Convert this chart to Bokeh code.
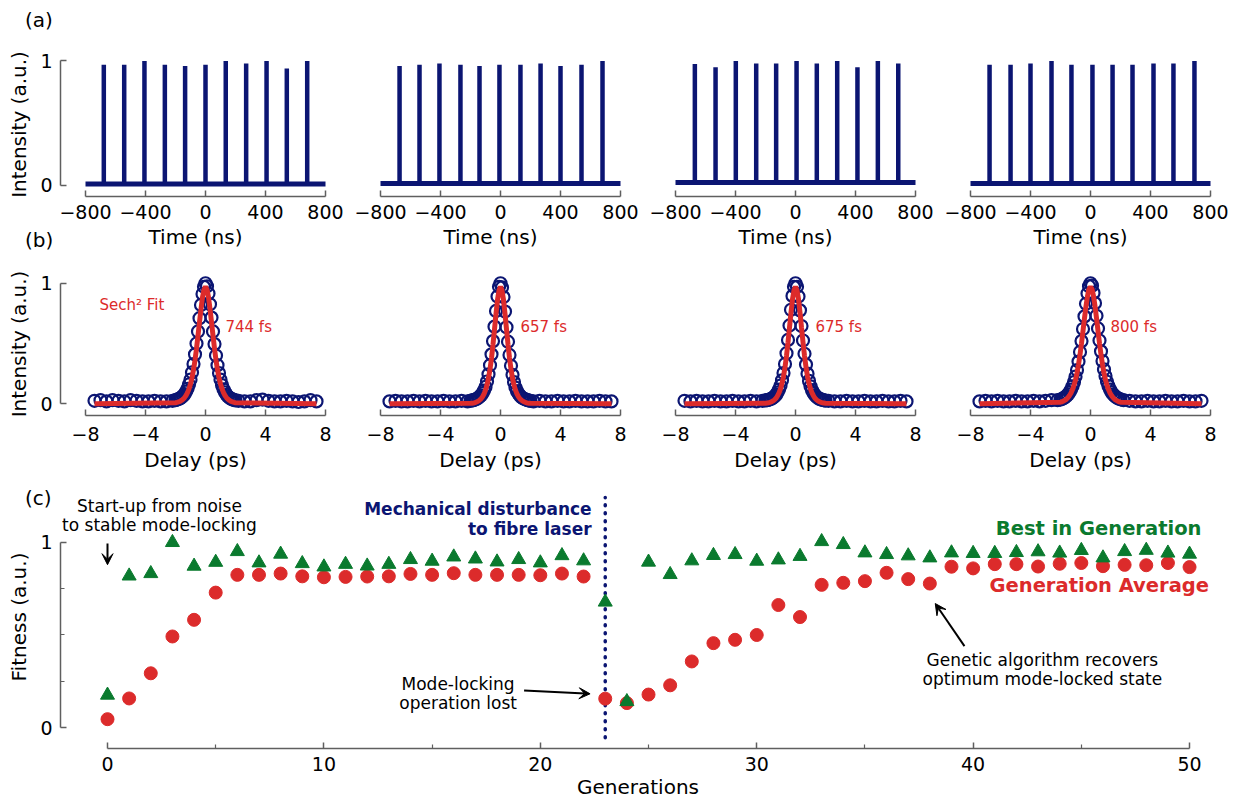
from bokeh.plotting import figure
from bokeh.layouts import column, row
from bokeh.models import Range1d, FixedTicker, Label, Arrow, VeeHead, Div
from bokeh.embed import file_html
from bokeh.resources import INLINE

# ---------------- data ----------------
# (a) pulse trains
time_ticks = [-800, -400, 0, 400, 800]
baseline_span = [-800, 800]
baseline_level = [0.012, 0.015, 0.025, 0.015]
spike_times = [
    [-678, -542, -407, -271, -136, 0, 135, 271, 407, 542, 678],
    [-673, -540, -407, -267, -140, -7, 133, 267, 400, 540, 680],
    [-671, -533, -398, -262, -129, 7, 142, 278, 413, 549, 685],
    [-673, -533, -400, -260, -127, 13, 147, 280, 420, 553, 693],
]
spike_heights = [
    [0.97, 0.97, 1.00, 0.97, 0.96, 0.97, 1.00, 0.98, 1.00, 0.94, 1.00],
    [0.96, 0.97, 0.98, 0.97, 0.96, 0.97, 0.97, 0.98, 0.96, 0.97, 1.00],
    [0.976, 0.95, 1.00, 0.98, 0.98, 1.00, 0.98, 1.00, 0.95, 1.00, 0.98],
    [0.97, 0.97, 0.98, 1.00, 0.97, 0.97, 0.97, 0.97, 0.98, 0.98, 1.00],
]

# (b) autocorrelation traces
delay_ticks = [-8, -4, 0, 4, 8]
delay_data = [-7.4, -7.0, -6.6, -6.2, -5.8, -5.4, -5.0, -4.6, -4.2, -3.8, -3.4, -3.0, -2.6, -2.2,
              -2.0, -1.9, -1.8, -1.7, -1.6, -1.5, -1.4, -1.3, -1.2, -1.1, -1.0, -0.9, -0.8, -0.7,
              -0.6, -0.5, -0.4, -0.3, -0.2, -0.1, 0.0, 0.1, 0.2, 0.3, 0.4, 0.5, 0.6, 0.7, 0.8, 0.9,
              1.0, 1.1, 1.2, 1.3, 1.4, 1.5, 1.6, 1.7, 1.8, 1.9, 2.0,
              2.2, 2.6, 3.0, 3.4, 3.8, 4.2, 4.6, 5.0, 5.4, 5.8, 6.2, 6.6, 7.0, 7.4]
ac_data_1 = [0.025, 0.030, 0.020, 0.030, 0.025, 0.020, 0.030, 0.025, 0.020, 0.020, 0.025, 0.020, 0.020, 0.025,
             0.030, 0.035, 0.040, 0.045, 0.055, 0.065, 0.080, 0.100, 0.125, 0.160, 0.200, 0.260, 0.330, 0.410,
             0.500, 0.600, 0.710, 0.820, 0.910, 0.970, 1.000, 0.975, 0.915, 0.825, 0.715, 0.600, 0.495, 0.400,
             0.320, 0.255, 0.200, 0.155, 0.120, 0.095, 0.075, 0.060, 0.050, 0.042, 0.036, 0.032, 0.028,
             0.025, 0.020, 0.020, 0.030, 0.035, 0.025, 0.020, 0.020, 0.025, 0.020, 0.015, 0.020, 0.030, 0.020]
ac_data_2 = [0.020, 0.025, 0.020, 0.020, 0.025, 0.020, 0.025, 0.020, 0.020, 0.025, 0.020, 0.020, 0.025, 0.020,
             0.025, 0.028, 0.030, 0.035, 0.040, 0.048, 0.058, 0.070, 0.088, 0.110, 0.140, 0.185, 0.245, 0.320,
             0.410, 0.520, 0.640, 0.770, 0.890, 0.970, 1.000, 0.965, 0.885, 0.765, 0.635, 0.515, 0.405, 0.315,
             0.240, 0.180, 0.135, 0.105, 0.083, 0.066, 0.055, 0.046, 0.040, 0.035, 0.030, 0.027, 0.025,
             0.020, 0.025, 0.020, 0.020, 0.025, 0.020, 0.020, 0.025, 0.020, 0.020, 0.020, 0.025, 0.020, 0.020]
ac_data_3 = [0.025, 0.020, 0.025, 0.020, 0.020, 0.025, 0.020, 0.020, 0.025, 0.020, 0.020, 0.025, 0.020, 0.025,
             0.028, 0.030, 0.033, 0.037, 0.043, 0.050, 0.060, 0.074, 0.093, 0.118, 0.150, 0.195, 0.255, 0.330,
             0.420, 0.530, 0.650, 0.780, 0.895, 0.970, 1.000, 0.970, 0.890, 0.775, 0.645, 0.525, 0.415, 0.325,
             0.250, 0.190, 0.145, 0.113, 0.090, 0.072, 0.058, 0.048, 0.041, 0.036, 0.032, 0.029, 0.027,
             0.025, 0.020, 0.020, 0.025, 0.020, 0.020, 0.025, 0.020, 0.020, 0.025, 0.020, 0.020, 0.025, 0.020]
ac_data_4 = [0.020, 0.025, 0.020, 0.025, 0.020, 0.020, 0.025, 0.020, 0.020, 0.025, 0.020, 0.025, 0.030, 0.030,
             0.035, 0.040, 0.047, 0.055, 0.065, 0.078, 0.095, 0.117, 0.145, 0.180, 0.225, 0.280, 0.350, 0.430,
             0.520, 0.620, 0.725, 0.830, 0.915, 0.975, 1.000, 0.980, 0.920, 0.835, 0.730, 0.625, 0.525, 0.435,
             0.355, 0.285, 0.230, 0.183, 0.147, 0.118, 0.096, 0.079, 0.066, 0.056, 0.048, 0.042, 0.037,
             0.030, 0.025, 0.020, 0.020, 0.025, 0.020, 0.020, 0.025, 0.020, 0.020, 0.025, 0.020, 0.020, 0.025]
ac_data = [ac_data_1, ac_data_2, ac_data_3, ac_data_4]

delay_fit = [-7.4, -2.0, -1.9, -1.8, -1.7, -1.6, -1.5, -1.4, -1.3, -1.2, -1.1, -1.0, -0.9, -0.8, -0.7,
             -0.6, -0.5, -0.4, -0.3, -0.2, -0.1, 0.0, 0.1, 0.2, 0.3, 0.4, 0.5, 0.6, 0.7, 0.8, 0.9,
             1.0, 1.1, 1.2, 1.3, 1.4, 1.5, 1.6, 1.7, 1.8, 1.9, 2.0, 7.4]
ac_fit_1 = [0.0, 0.009, 0.012, 0.016, 0.020, 0.028, 0.038, 0.051, 0.069, 0.093, 0.124, 0.165, 0.216, 0.282,
            0.363, 0.458, 0.566, 0.679, 0.786, 0.884, 0.948, 0.970, 0.948, 0.884, 0.786, 0.679, 0.566, 0.458,
            0.363, 0.282, 0.216, 0.165, 0.124, 0.093, 0.069, 0.051, 0.038, 0.028, 0.020, 0.016, 0.012, 0.009, 0.0]
ac_fit_2 = [0.0, 0.004, 0.005, 0.007, 0.010, 0.015, 0.021, 0.030, 0.041, 0.058, 0.081, 0.113, 0.156, 0.213,
            0.287, 0.379, 0.493, 0.619, 0.747, 0.861, 0.941, 0.970, 0.941, 0.861, 0.747, 0.619, 0.493, 0.379,
            0.287, 0.213, 0.156, 0.113, 0.081, 0.058, 0.041, 0.030, 0.021, 0.015, 0.010, 0.007, 0.005, 0.004, 0.0]
ac_fit_3 = [0.0, 0.004, 0.006, 0.009, 0.012, 0.017, 0.024, 0.033, 0.046, 0.065, 0.090, 0.123, 0.169, 0.227,
            0.304, 0.398, 0.510, 0.632, 0.758, 0.867, 0.943, 0.970, 0.943, 0.867, 0.758, 0.632, 0.510, 0.398,
            0.304, 0.227, 0.169, 0.123, 0.090, 0.065, 0.046, 0.033, 0.024, 0.017, 0.012, 0.009, 0.006, 0.004, 0.0]
ac_fit_4 = [0.0, 0.013, 0.017, 0.023, 0.030, 0.039, 0.052, 0.069, 0.090, 0.118, 0.154, 0.198, 0.256, 0.325,
            0.407, 0.502, 0.605, 0.711, 0.811, 0.894, 0.951, 0.970, 0.951, 0.894, 0.811, 0.711, 0.605, 0.502,
            0.407, 0.325, 0.256, 0.198, 0.154, 0.118, 0.090, 0.069, 0.052, 0.039, 0.030, 0.023, 0.017, 0.013, 0.0]
ac_fit = [ac_fit_1, ac_fit_2, ac_fit_3, ac_fit_4]
pulse_labels = ["744 fs", "657 fs", "675 fs", "800 fs"]

# (c) genetic algorithm fitness
generations = list(range(51))
gen_ticks = [0, 10, 20, 30, 40, 50]
gen_minor = [5, 15, 25, 35, 45]
best_in_generation = [0.175, 0.819, 0.832, 1.000, 0.872, 0.893, 0.951, 0.890, 0.937, 0.886,
                      0.868, 0.882, 0.873, 0.882, 0.908, 0.899, 0.922, 0.911, 0.895, 0.908,
                      0.890, 0.929, 0.901, 0.678, 0.140, 0.894, 0.827, 0.901, 0.930, 0.935,
                      0.899, 0.906, 0.925, 1.005, 0.989, 0.944, 0.935, 0.928, 0.917, 0.944,
                      0.941, 0.941, 0.946, 0.950, 0.943, 0.957, 0.917, 0.951, 0.958, 0.943, 0.937]
generation_average = [0.045, 0.157, 0.293, 0.492, 0.582, 0.729, 0.825, 0.825, 0.832, 0.817,
                      0.812, 0.814, 0.816, 0.817, 0.830, 0.825, 0.834, 0.825, 0.825, 0.825,
                      0.823, 0.832, 0.816, 0.156, 0.132, 0.178, 0.228, 0.357, 0.456, 0.474,
                      0.500, 0.662, 0.597, 0.771, 0.782, 0.791, 0.836, 0.802, 0.778, 0.869,
                      0.860, 0.883, 0.883, 0.870, 0.885, 0.889, 0.872, 0.879, 0.877, 0.889, 0.867]
disturbance_generation = 23

# ---------------- style ----------------
NAVY = "#0b1572"
RED = "#dc2b2b"
GREEN = "#0a7a2e"
AXIS = "#5f5f5f"
FONT = "DejaVu Sans"


def minus(v):
    return str(v).replace("-", "\u2212")


def base_fig(width, height, xr, yr, left, right, top, bottom, show_y):
    p = figure(width=width, height=height, x_range=Range1d(*xr), y_range=Range1d(*yr),
               output_backend="svg", toolbar_location=None,
               min_border_left=left, min_border_right=right,
               min_border_top=top, min_border_bottom=bottom)
    p.outline_line_color = None
    p.xgrid.visible = False
    p.ygrid.visible = False
    p.background_fill_color = "white"
    p.border_fill_color = "white"
    for ax in p.axis:
        ax.axis_line_color = AXIS
        ax.axis_line_width = 1.5
        ax.major_tick_line_color = AXIS
        ax.major_tick_line_width = 1.5
        ax.minor_tick_line_color = AXIS
        ax.minor_tick_line_width = 1.2
        ax.major_tick_in = 6
        ax.major_tick_out = 0
        ax.minor_tick_in = 4
        ax.minor_tick_out = 0
        ax.major_label_text_font = FONT
        ax.major_label_text_font_size = "19px"
        ax.major_label_text_color = "black"
        ax.axis_label_text_font = FONT
        ax.axis_label_text_font_size = "20px"
        ax.axis_label_text_font_style = "normal"
        ax.axis_label_text_color = "black"
    p.yaxis.ticker = FixedTicker(ticks=[0, 1])
    p.yaxis.bounds = (0, 1)
    p.yaxis.major_label_standoff = 8
    p.yaxis.axis_label_standoff = 6
    p.yaxis.visible = show_y
    return p


def panel_tag(text, top, left):
    # zero-net-height overlay text holding a panel letter
    h = 24
    return Div(text=text, width=40, height=h, margin=(top, 0, -(top + h), left),
               styles={"position": "relative", "z-index": "10", "font-family": FONT,
                       "font-size": "20px", "line-height": "24px", "color": "black"})


# ---------------- row (a) ----------------
row_a = []
for i in range(4):
    first = i == 0
    p = base_fig(350 if first else 295, 253, (-966.7, 833.3), (-0.0884, 1.068),
                 60 if first else 5, 20, 52, 57, first)
    p.xaxis.ticker = FixedTicker(ticks=time_ticks)
    p.xaxis.bounds = (time_ticks[0], time_ticks[-1])
    p.xaxis.major_label_overrides = {t: minus(t) for t in time_ticks}
    p.xaxis.major_label_standoff = 8
    p.xaxis.axis_label_standoff = 3
    p.xaxis.axis_label = "Time (ns)"
    if first:
        p.yaxis.axis_label = "Intensity (a.u.)"
    n = len(spike_times[i])
    p.line(baseline_span, [baseline_level[i]] * 2, line_width=5, color=NAVY)
    p.segment(x0=spike_times[i], y0=[baseline_level[i]] * n, x1=spike_times[i],
              y1=spike_heights[i], line_width=4.5, color=NAVY)
    row_a.append(p)

# ---------------- row (b) ----------------
row_b = []
for i in range(4):
    first = i == 0
    p = base_fig(350 if first else 295, 224, (-9.667, 8.333), (-0.097, 1.089),
                 60 if first else 5, 20, 19, 62, first)
    p.xaxis.ticker = FixedTicker(ticks=delay_ticks)
    p.xaxis.bounds = (delay_ticks[0], delay_ticks[-1])
    p.xaxis.major_label_overrides = {t: minus(t) for t in delay_ticks}
    p.xaxis.major_label_standoff = 11
    p.xaxis.axis_label_standoff = 4
    p.xaxis.axis_label = "Delay (ps)"
    if first:
        p.yaxis.axis_label = "Intensity (a.u.)"
    p.scatter(delay_data, ac_data[i], marker="circle", size=12, fill_color=None,
              line_color=NAVY, line_width=2.2)
    p.line(delay_fit, ac_fit[i], line_width=5, color=RED)
    p.add_layout(Label(x=1.33, y=0.64, text=pulse_labels[i], text_font=FONT,
                       text_font_size="15px", text_color=RED, text_baseline="middle"))
    if first:
        p.add_layout(Label(x=-7.07, y=0.823, text="Sech\u00b2 Fit", text_font=FONT,
                           text_font_size="15px", text_color=RED, text_baseline="middle"))
    row_b.append(p)

# ---------------- panel (c) ----------------
pc = base_fig(1215, 326, (-2.172, 51.2), (-0.1135, 1.308), 60, 0, 8, 55, True)
pc.xaxis.ticker = FixedTicker(ticks=gen_ticks, minor_ticks=gen_minor)
pc.xaxis.bounds = (gen_ticks[0], gen_ticks[-1])
pc.xaxis.major_label_standoff = 8
pc.xaxis.axis_label_standoff = 1
pc.xaxis.axis_label = "Generations"
pc.yaxis.ticker = FixedTicker(ticks=[0, 1], minor_ticks=[0.25, 0.5, 0.75])
pc.yaxis.axis_label = "Fitness (a.u.)"

pc.segment(x0=[disturbance_generation], y0=[-0.055], x1=[disturbance_generation], y1=[1.243],
           line_width=3.5, line_dash="1 7", line_cap="round", color=NAVY)
pc.scatter(generations, generation_average, marker="circle", size=13, color=RED)
pc.scatter(generations, best_in_generation, marker="triangle", size=14, color=GREEN)


def note(x, y, text, align="center", color="black", size="17px", style="normal"):
    pc.add_layout(Label(x=x, y=y, text=text, text_font=FONT, text_font_size=size,
                        text_align=align, text_baseline="middle", text_color=color,
                        text_font_style=style))


note(2.4, 1.195, "Start-up from noise")
note(2.4, 1.094, "to stable mode-locking")
note(22.37, 1.18, "Mechanical disturbance", align="right", color=NAVY, style="bold")
note(22.37, 1.075, "to fibre laser", align="right", color=NAVY, style="bold")
note(16.2, 0.235, "Mode-locking")
note(16.2, 0.135, "operation lost")
note(50.55, 1.073, "Best in Generation", align="right", color=GREEN, size="19.5px", style="bold")
note(50.9, 0.765, "Generation Average", align="right", color=RED, size="19.5px", style="bold")
note(43.2, 0.365, "Genetic algorithm recovers")
note(43.2, 0.262, "optimum mode-locked state")


def arrow(x0, y0, x1, y1):
    pc.add_layout(Arrow(end=VeeHead(size=11, fill_color="black", line_color="black"),
                        x_start=x0, y_start=y0, x_end=x1, y_end=y1,
                        line_width=2, line_color="black"))


arrow(0, 0.995, 0, 0.88)
arrow(19.25, 0.2, 22.3, 0.182)
arrow(39.6, 0.44, 38.25, 0.67)

layout = column(panel_tag("(a)", 8, 25), row(*row_a),
                panel_tag("(b)", -25, 25), row(*row_b),
                panel_tag("(c)", 9, 25), pc)
open("out.html", "w").write(file_html(layout, INLINE))
